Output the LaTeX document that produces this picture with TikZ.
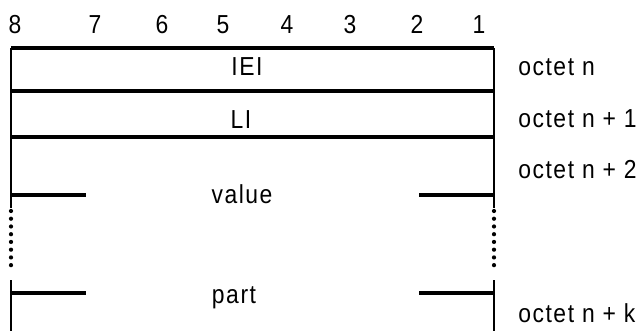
\documentclass[tikz,border=0pt]{standalone}
\usepackage{fontspec}
\setmainfont{Liberation Sans}[FakeStretch=0.88, LetterSpace=6]
\usetikzlibrary{positioning}
\begin{document}
\begin{tikzpicture}[x=0.025cm, y=-0.025cm, line width=1.8pt,
    label/.style={font=\fontsize{18.5}{22}\selectfont, inner sep=0pt, anchor=base},
    octet/.style={label, anchor=base west},
    rule/.style={line width=2.5pt},
    dots/.style={line width=3pt, line cap=round, dash pattern=on 0pt off 5.5pt}]
    \useasboundingbox (0,0) rectangle (640,331);
    % Bit numbers
    \foreach \b/\x in {8/15,7/95,6/162,5/223,4/287,3/350,2/417,1/479} {
        \node[label] (B\b) at (\x,33) {\b};
    }
    % Frame points
    \coordinate (L0) at (11,48);   \coordinate (R0) at (494,48);
    \coordinate (L1) at (11,91);   \coordinate (R1) at (494,91);
    \coordinate (L2) at (11,137);  \coordinate (R2) at (494,137);
    \coordinate (L3) at (11,208);  \coordinate (R3) at (494,208);
    \coordinate (L4) at (11,211);  \coordinate (R4) at (494,211);
    \coordinate (L5) at (11,272);  \coordinate (R5) at (494,272);
    \coordinate (L6) at (11,280);  \coordinate (R6) at (494,280);
    \coordinate (L7) at (11,331);  \coordinate (R7) at (494,331);
    % Ticks
    \coordinate (TL1) at (86,195);  \coordinate (TR1) at (419,195);
    \coordinate (TL2) at (86,293);  \coordinate (TR2) at (419,293);

    % Field texts
    \node[label] (iei) at (247,75) {IEI};
    \node[label] (li) at (241,128) {LI};
    \node[label] (value) at (242,203) {value};
    \node[label] (part) at (234,303) {part};

    % Octet texts
    \node[octet] (oct0) at (517,75) {octet n};
    \node[octet] (oct1) at (517,127) {octet n + 1};
    \node[octet] (oct2) at (517,178) {octet n + 2};
    \node[octet] (octk) at (517,322) {octet n + k};

    % Lines
    \draw[rule] (L0) -- (R0);
    \draw[rule] (L1) -- (R1);
    \draw[rule] (L2) -- (R2);
    \draw (L0) -- (L3);
    \draw (R0) -- (R3);
    \draw[dots] (L4) -- (L5);
    \draw[dots] (R4) -- (R5);
    \draw (L6) -- (L7);
    \draw (R6) -- (R7);
    \draw[rule] (L0 |- TL1) -- (TL1);
    \draw[rule] (TR1) -- (R0 |- TR1);
    \draw[rule] (L0 |- TL2) -- (TL2);
    \draw[rule] (TR2) -- (R0 |- TR2);
\end{tikzpicture}
\end{document}
